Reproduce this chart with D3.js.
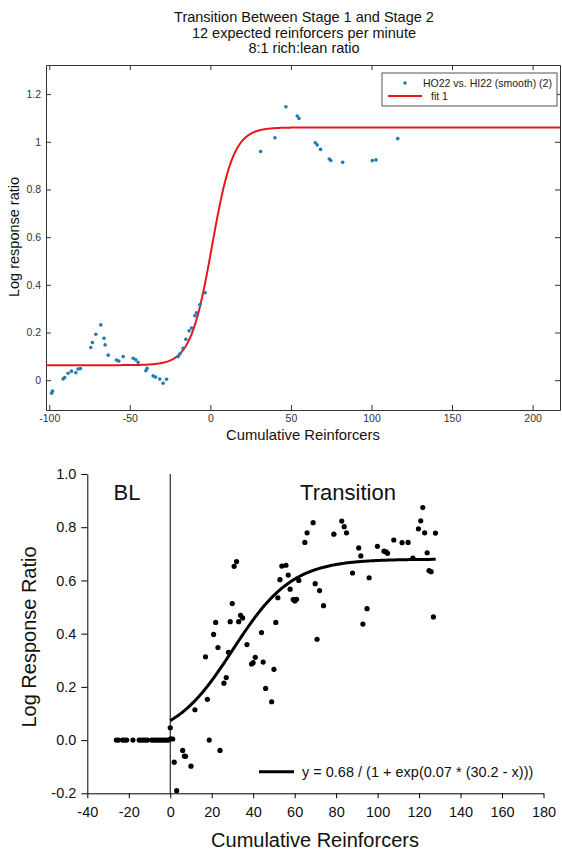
<!DOCTYPE html>
<html>
<head>
<meta charset="utf-8">
<script src="https://cdn.jsdelivr.net/npm/d3@7"></script>
<style>
  body { margin: 0; background: #fff; }
  svg { display: block; font-family: "Liberation Sans", Arial, sans-serif; }
</style>
</head>
<body>
<div class="canvas"></div>
<script>
// ---- top chart data (smoothed log response ratio) ----
const topTitle = ["Transition Between Stage 1 and Stage 2", "12 expected reinforcers per minute", "8:1 rich:lean ratio"];
const topX = [-98.5, -98, -91.4, -90.4, -88.3, -86.2, -83.5, -82.1, -80.6,
  -74.2, -73.2, -71.1, -68, -66, -65.3, -63.4, -58.3, -56.8, -54.1,
  -47.9, -46.3, -44.8, -40, -39.2, -35.5, -34, -31.4, -29.3, -27.2,
  -20, -18.9, -16.9, -15.2, -13.2, -11.7, -9.6, -8.6, -6.5, -3.2,
  31.2, 40.1, 46.9, 53.9, 55, 65.1, 66.3, 68.4, 73.8, 74.8, 82.1, 100.5, 102.8, 116.3];
const topY = [-0.055, -0.046, 0.005, 0.011, 0.029, 0.038, 0.031, 0.047, 0.049,
  0.137, 0.158, 0.193, 0.232, 0.176, 0.148, 0.105, 0.085, 0.080, 0.099,
  0.092, 0.086, 0.075, 0.040, 0.050, 0.018, 0.013, 0.005, -0.013, 0.004,
  0.099, 0.110, 0.134, 0.172, 0.207, 0.219, 0.270, 0.283, 0.316, 0.367,
  0.959, 1.017, 1.147, 1.108, 1.098, 0.996, 0.987, 0.968, 0.928, 0.921, 0.914, 0.921, 0.924, 1.013];
// logistic fit: low, high, centre, rate
const topFit = [0.063, 1.06, 1, 0.15];
const topXTicks = [-100, -50, 0, 50, 100, 150, 200];
const topYTicks = [0, 0.2, 0.4, 0.6, 0.8, 1, 1.2];
const topLegend = ["HO22 vs. HI22 (smooth) (2)", "fit 1"];

// ---- bottom chart data ----
const botX = [-26, -25, -23, -22, -21, -18, -15, -14, -13, -12, -11, -9, -8, -7, -6, -5, -4, -3, -2, -1, 0.2, 1.2,
  0, 1.9, 3.1, 6, 6.8, 7.4, 10, 11.9, 17, 17.9, 18.8, 20.9, 21.9, 23, 24, 25.9, 27, 28.1, 28.9, 29.9, 30.8, 32,
  33, 33.9, 34.9, 37, 39.2, 40, 41, 44, 44.8, 46, 48.9, 50, 50.9, 51.9, 52.9, 53.8, 55.8, 56.9, 57.8, 59.3, 60.1,
  60.9, 62, 64.9, 66, 68.9, 69.9, 70.8, 72, 73.9, 78.9, 82.7, 83.9, 85, 87.9, 90.9, 91.9, 92.9, 94.9, 95.9,
  99.9, 103.1, 104.1, 104.8, 107.8, 111.8, 114.7, 117, 119.7, 120.8, 121.8, 122.7, 123.9, 124.8, 125.8, 126.9, 127.9];
const botY = [0, 0, 0, 0, 0, 0, 0, 0, 0, 0, 0, 0, 0, 0, 0, 0, 0, 0, 0, 0, 0.005, 0.004,
  0.046, -0.083, -0.19, -0.039, -0.06, -0.061, -0.098, 0.114, 0.313, 0.153, 0.0, 0.397, 0.442, 0.348, -0.039, 0.214, 0.235, 0.330, 0.445, 0.513, 0.653, 0.671,
  0.445, 0.469, 0.459, 0.359, 0.286, 0.291, 0.311, 0.404, 0.293, 0.194, 0.144, 0.266, 0.442, 0.535, 0.603, 0.654, 0.657, 0.620, 0.567, 0.528, 0.523,
  0.529, 0.600, 0.743, 0.779, 0.817, 0.588, 0.379, 0.562, 0.505, 0.774, 0.823, 0.802, 0.779, 0.628, 0.722, 0.692, 0.436, 0.494, 0.610,
  0.728, 0.710, 0.707, 0.702, 0.752, 0.742, 0.743, 0.684, 0.794, 0.824, 0.874, 0.779, 0.704, 0.637, 0.633, 0.463, 0.778];
// y = a / (1 + exp(k * (c - x)))
const botFit = [0.68, 0.07, 30.2];
const botFitRange = [0, 128];
const botXTicks = [-40, -20, 0, 20, 40, 60, 80, 100, 120, 140, 160, 180];
const botYTicks = [-0.2, 0, 0.2, 0.4, 0.6, 0.8, 1.0];

const w = 562, h = 852;
const svg = d3.select(".canvas").append("svg").attr("width", w).attr("height", h);

// ================= top chart =================
const tx = d3.scaleLinear().domain([-102, 217]).range([46, 560]);
const ty = d3.scaleLinear().domain([-0.125, 1.322]).range([410, 65]);
const topG = svg.append("g");

topG.selectAll("text.title")
  .data(topTitle)
  .enter()
  .append("text")
  .attr("x", 304)
  .attr("y", (d, i) => 22 + i * 15.5)
  .attr("text-anchor", "middle")
  .attr("font-size", 14.5)
  .attr("fill", "#111")
  .text(d => d);

const tAxisStyle = g => {
  g.selectAll(".domain").attr("stroke", "#333");
  g.selectAll(".tick line").attr("stroke", "#333");
  g.selectAll("text").attr("font-size", 10.5).attr("fill", "#333").attr("font-family", "Liberation Sans, Arial, sans-serif");
};
topG.append("g").attr("transform", "translate(0,410)")
  .call(d3.axisBottom(tx).tickValues(topXTicks).tickSize(-5).tickPadding(5).tickSizeOuter(0).tickFormat(d => String(d)))
  .call(tAxisStyle);
topG.append("g").attr("transform", "translate(0,65)")
  .call(d3.axisTop(tx).tickValues(topXTicks).tickSize(-5).tickSizeOuter(0).tickFormat(""))
  .call(tAxisStyle);
topG.append("g").attr("transform", "translate(46,0)")
  .call(d3.axisLeft(ty).tickValues(topYTicks).tickSize(-5).tickPadding(5).tickSizeOuter(0).tickFormat(d => String(d)))
  .call(tAxisStyle);
topG.append("g").attr("transform", "translate(560,0)")
  .call(d3.axisRight(ty).tickValues(topYTicks).tickSize(-5).tickSizeOuter(0).tickFormat(""))
  .call(tAxisStyle);

topG.append("text")
  .attr("x", 303).attr("y", 440)
  .attr("text-anchor", "middle")
  .attr("font-size", 14.8)
  .attr("fill", "#111")
  .text("Cumulative Reinforcers");
topG.append("text")
  .attr("transform", "translate(19,237) rotate(-90)")
  .attr("text-anchor", "middle")
  .attr("font-size", 14.5)
  .attr("fill", "#111")
  .text("Log response ratio");

svg.append("clipPath").attr("id", "topclip")
  .append("rect").attr("x", 46).attr("y", 65).attr("width", 514).attr("height", 345);

const fitTop = d3.range(-102, 217.5, 0.5).map(x => [x, topFit[0] + (topFit[1] - topFit[0]) / (1 + Math.exp(-topFit[3] * (x - topFit[2])))]);
topG.append("path")
  .datum(fitTop)
  .attr("clip-path", "url(#topclip)")
  .attr("fill", "none")
  .attr("stroke", "#e8161b")
  .attr("stroke-width", 2)
  .attr("d", d3.line().x(d => tx(d[0])).y(d => ty(d[1])));

topG.selectAll("circle.pt")
  .data(topX.map((x, i) => [x, topY[i]]))
  .enter()
  .append("circle")
  .attr("cx", d => tx(d[0]))
  .attr("cy", d => ty(d[1]))
  .attr("r", 1.8)
  .attr("fill", "#1f7ab5");

// legend
const leg = topG.append("g");
leg.append("rect").attr("x", 382).attr("y", 73).attr("width", 175).attr("height", 33)
  .attr("fill", "#fff").attr("stroke", "#555").attr("stroke-width", 1);
leg.append("circle").attr("cx", 405).attr("cy", 83).attr("r", 1.8).attr("fill", "#1f7ab5");
leg.append("text").attr("x", 423).attr("y", 86.5).attr("font-size", 10.5).attr("fill", "#222").text(topLegend[0]);
leg.append("line").attr("x1", 388).attr("x2", 422).attr("y1", 96).attr("y2", 96)
  .attr("stroke", "#e8161b").attr("stroke-width", 2);
leg.append("text").attr("x", 431).attr("y", 99.5).attr("font-size", 10.5).attr("fill", "#222").text(topLegend[1]);

// ================= bottom chart =================
const bx = d3.scaleLinear().domain([-40, 180]).range([87.3, 543.5]);
const by = d3.scaleLinear().domain([-0.2, 1.0]).range([793.3, 474]);
const botG = svg.append("g");

const bAxisStyle = g => {
  g.selectAll(".domain").attr("stroke", "#000");
  g.selectAll(".tick line").attr("stroke", "#000");
  g.selectAll("text").attr("font-size", 14.5).attr("fill", "#111").attr("font-family", "Liberation Sans, Arial, sans-serif");
};
botG.append("g").attr("transform", "translate(0,793.3)")
  .call(d3.axisBottom(bx).tickValues(botXTicks).tickSize(5).tickPadding(8).tickSizeOuter(0).tickFormat(d => String(d)))
  .call(bAxisStyle);
botG.append("g").attr("transform", "translate(87.3,0)")
  .call(d3.axisLeft(by).tickValues(botYTicks).tickSize(6).tickPadding(5).tickSizeOuter(0).tickFormat(d => d.toFixed(1)))
  .call(bAxisStyle);

botG.append("line")
  .attr("x1", bx(0)).attr("x2", bx(0))
  .attr("y1", by(1.0)).attr("y2", by(-0.2))
  .attr("stroke", "#000").attr("stroke-width", 1);

botG.append("text").attr("x", 127).attr("y", 500).attr("text-anchor", "middle")
  .attr("font-size", 22).attr("fill", "#111").text("BL");
botG.append("text").attr("x", 348).attr("y", 500).attr("text-anchor", "middle")
  .attr("font-size", 22).attr("fill", "#111").text("Transition");

botG.append("text")
  .attr("x", 315).attr("y", 847)
  .attr("text-anchor", "middle")
  .attr("font-size", 20)
  .attr("fill", "#111")
  .text("Cumulative Reinforcers");
botG.append("text")
  .attr("transform", "translate(36,637) rotate(-90)")
  .attr("text-anchor", "middle")
  .attr("font-size", 20)
  .attr("fill", "#111")
  .text("Log Response Ratio");

const fitBot = d3.range(botFitRange[0], botFitRange[1] + 0.5, 0.5)
  .map(x => [x, botFit[0] / (1 + Math.exp(botFit[1] * (botFit[2] - x)))]);
botG.append("path")
  .datum(fitBot)
  .attr("fill", "none")
  .attr("stroke", "#000")
  .attr("stroke-width", 3)
  .attr("d", d3.line().x(d => bx(d[0])).y(d => by(d[1])));

botG.selectAll("circle.pt")
  .data(botX.map((x, i) => [x, botY[i]]))
  .enter()
  .append("circle")
  .attr("cx", d => bx(d[0]))
  .attr("cy", d => by(d[1]))
  .attr("r", 2.6)
  .attr("fill", "#000");

botG.append("line").attr("x1", 259).attr("x2", 294).attr("y1", 771.7).attr("y2", 771.7)
  .attr("stroke", "#000").attr("stroke-width", 3);
botG.append("text").attr("x", 302).attr("y", 777).attr("font-size", 14.5).attr("fill", "#111")
  .text("y = 0.68 / (1 + exp(0.07 * (30.2 - x)))");
</script>
</body>
</html>
